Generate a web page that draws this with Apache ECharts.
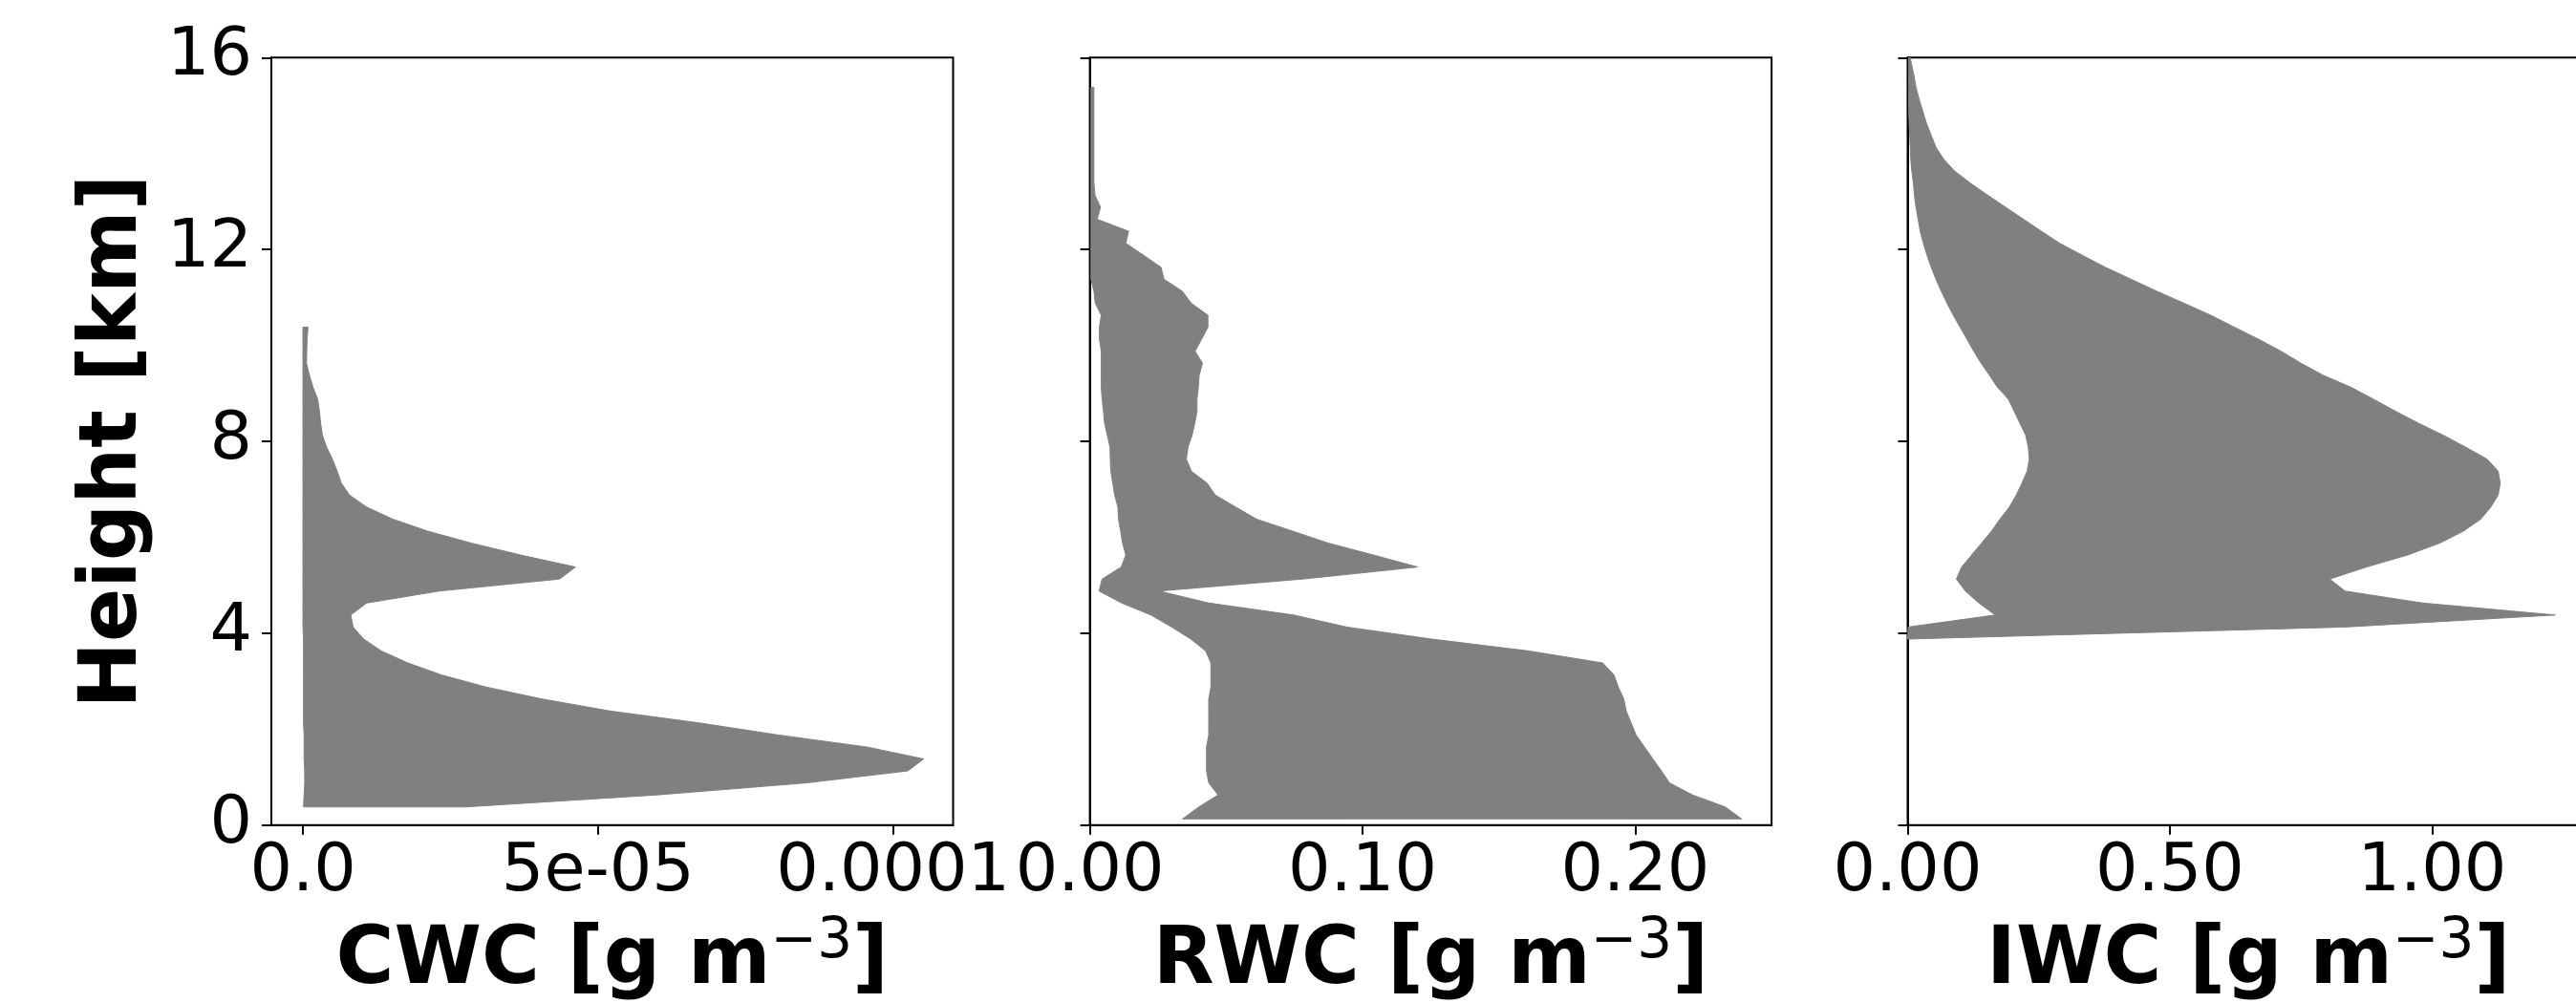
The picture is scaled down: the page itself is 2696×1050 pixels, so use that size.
<!DOCTYPE html>
<html>
<head>
<meta charset="utf-8">
<script src="https://cdn.jsdelivr.net/npm/echarts@6/dist/echarts.min.js"></script>
<style>
html,body{margin:0;padding:0;background:#fff;}
#chart{width:2696px;height:1050px;}
</style>
</head>
<body>
<div id="chart"></div>
<script>
// ---------- data ----------
// Height levels [km]
var cwcHeight = [0.38,0.63,0.88,1.13,1.38,1.63,1.88,2.13,2.38,2.63,2.88,3.13,3.38,3.63,3.88,4.13,4.38,4.63,4.88,5.13,5.38,5.63,5.88,6.13,6.38,6.63,6.88,7.13,7.38,7.63,7.88,8.13,8.38,8.63,8.88,9.13,9.38,9.63,9.88,10.13,10.38];
// CWC bounds, in units of 1e-5 g m-3
var cwcLeft  = [0.01,0.02,0.03,0.03,0.02,0.02,0.02,0.01,0.01,0.01,0.01,0.01,0.01,0.01,0.01,0.0,0.0,0.0,0.0,0.0,0.0,0.0,0.0,0.0,0.0,0.0,0.0,0.0,0.0,0.0,0.0,0.0,0.0,0.0,0.0,0.0,0.0,0.0,0.0,0.0,0.0];
var cwcRight = [2.76,6.0,8.53,10.25,10.52,9.55,8.05,6.72,5.2,4.05,3.1,2.35,1.78,1.33,1.03,0.85,0.81,1.08,2.31,4.35,4.62,3.69,2.85,2.11,1.52,1.08,0.79,0.65,0.58,0.50,0.40,0.33,0.30,0.28,0.25,0.17,0.11,0.06,0.065,0.07,0.086];
var CWC_UNIT = 1e-5;

var rwcHeight = [0.13,0.38,0.63,0.88,1.13,1.38,1.63,1.88,2.13,2.38,2.63,2.88,3.13,3.38,3.63,3.88,4.13,4.38,4.63,4.88,5.13,5.38,5.63,5.88,6.13,6.38,6.63,6.88,7.13,7.38,7.63,7.88,8.13,8.38,8.63,8.88,9.13,9.38,9.63,9.88,10.13,10.38,10.63,10.88,11.13,11.38,11.63,11.88,12.13,12.38,12.63,12.88,13.13,13.38,13.63,13.88,14.13,14.38,14.63,14.88,15.13,15.38];
var rwcLeft  = [0.034,0.040,0.047,0.0436,0.0428,0.0428,0.0428,0.0436,0.0436,0.0436,0.0436,0.0444,0.0444,0.0444,0.0425,0.037,0.030,0.0224,0.0117,0.0034,0.0045,0.0115,0.0132,0.0120,0.0113,0.0105,0.0103,0.0091,0.0084,0.0077,0.0075,0.0074,0.0064,0.0054,0.0050,0.0045,0.0042,0.0042,0.0042,0.0042,0.0035,0.0035,0.0042,0.0020,0.0015,0.0004,0.0004,0.0004,0.0004,0.0004,0.0004,0.0004,0.0004,0.0004,0.0004,0.0004,0.0004,0.0004,0.0004,0.0004,0.0004,0.0004];
var rwcRight = [0.239,0.233,0.221,0.2126,0.2096,0.2065,0.2034,0.2003,0.1985,0.1967,0.1958,0.1938,0.1922,0.1881,0.1611,0.1252,0.0942,0.0747,0.0436,0.0254,0.078,0.1202,0.104,0.0874,0.0743,0.0611,0.0535,0.046,0.043,0.0372,0.0354,0.0360,0.0375,0.0385,0.0393,0.0393,0.0398,0.0401,0.0413,0.0386,0.0410,0.0433,0.0433,0.0372,0.0339,0.0272,0.0261,0.0197,0.0132,0.0142,0.0027,0.0039,0.0019,0.0015,0.0015,0.0015,0.0015,0.0015,0.0015,0.0015,0.0015,0.0015];

var iwcHeight = [3.88,4.13,4.38,4.63,4.88,5.13,5.38,5.63,5.88,6.13,6.38,6.63,6.88,7.13,7.38,7.63,7.88,8.13,8.38,8.63,8.88,9.13,9.38,9.63,9.88,10.13,10.38,10.63,10.88,11.13,11.38,11.63,11.88,12.13,12.38,12.63,12.88,13.13,13.38,13.63,13.88,14.13,14.38,14.63,14.88,15.13,15.38,15.63,15.88,16.13];
var iwcLeft  = [0.000,0.001,0.167,0.136,0.110,0.093,0.103,0.122,0.141,0.160,0.176,0.194,0.207,0.218,0.228,0.232,0.230,0.225,0.214,0.203,0.192,0.171,0.156,0.140,0.126,0.113,0.100,0.087,0.075,0.064,0.054,0.045,0.037,0.030,0.024,0.020,0.016,0.013,0.011,0.008,0.006,0.005,0.004,0.003,0.002,0.002,0.002,0.002,0.002,0.002];
var iwcRight = [0.002,0.834,1.235,0.982,0.834,0.805,0.875,0.953,1.015,1.060,1.093,1.112,1.126,1.130,1.126,1.105,1.064,1.021,0.974,0.930,0.888,0.845,0.792,0.750,0.712,0.669,0.623,0.578,0.527,0.475,0.426,0.377,0.333,0.290,0.255,0.221,0.187,0.153,0.120,0.090,0.069,0.054,0.045,0.036,0.029,0.022,0.016,0.012,0.007,0.003];

// ticks
var heightTicks = [0, 4, 8, 12, 16];
var cwcTicks = [0, 5e-5, 1e-4];
var cwcTickLabels = ['0.0', '5e-05', '0.0001'];
var rwcTicks = [0, 0.1, 0.2];
var rwcTickLabels = ['0.00', '0.10', '0.20'];
var iwcTicks = [0, 0.5, 1.0];
var iwcTickLabels = ['0.00', '0.50', '1.00'];

// ---------- chart ----------
var FONT = 'DejaVu Sans';
var chart = echarts.init(document.getElementById('chart'), null, {renderer: 'canvas'});

function rows(H, L, R, unit) {
  var out = [];
  for (var i = 0; i < H.length; i++) out.push([L[i] * unit, R[i] * unit, H[i]]);
  return out;
}
function makeRender(data) {
  return function (params, api) {
    if (params.dataIndex !== 0) return null;
    var pts = [];
    for (var i = 0; i < data.length; i++) pts.push(api.coord([data[i][0], data[i][2]]));
    for (var j = data.length - 1; j >= 0; j--) pts.push(api.coord([data[j][1], data[j][2]]));
    return {type: 'polygon', shape: {points: pts}, style: {fill: '#808080', stroke: '#808080', lineWidth: 1}};
  };
}
function labelFmt(ticks, labels) {
  return function (v) {
    for (var i = 0; i < ticks.length; i++) if (Math.abs(ticks[i] - v) < 1e-12) return labels[i];
    return '';
  };
}
var richName = {
  b: {fontSize: 83, fontWeight: 'bold', fontFamily: FONT, color: '#000', lineHeight: 100},
  s: {fontSize: 58, fontWeight: 'normal', fontFamily: FONT, color: '#000', lineHeight: 58, verticalAlign: 'top'}
};
function xAxisDef(idx, min, max, ticks, labels, nameMain) {
  return {
    gridIndex: idx, type: 'value', min: min, max: max,
    axisLine: {show: true, onZero: false, lineStyle: {color: '#000', width: 2}},
    axisTick: {show: true, length: 10, lineStyle: {color: '#000', width: 2}, customValues: ticks},
    axisLabel: {show: true, customValues: ticks, formatter: labelFmt(ticks, labels), fontSize: 70, color: '#000', fontFamily: FONT, margin: 15},
    splitLine: {show: false},
    name: '{b|' + nameMain + ' [g m}{s|\u22123}{b|]}',
    nameLocation: 'middle', nameGap: 94,
    nameTextStyle: {rich: richName}
  };
}
function yAxisDef(idx, showLabel) {
  var a = {
    gridIndex: idx, type: 'value', min: 0, max: 16, interval: 4,
    axisLine: {show: true, onZero: false, lineStyle: {color: '#000', width: 2}},
    axisTick: {show: true, length: 10, lineStyle: {color: '#000', width: 2}},
    axisLabel: {show: showLabel, fontSize: 70, color: '#000', fontFamily: FONT, margin: 20,
      formatter: function (v) { return heightTicks.indexOf(v) >= 0 ? String(v) : ''; }},
    splitLine: {show: false}
  };
  if (showLabel) {
    a.name = 'Height [km]';
    a.nameLocation = 'middle';
    a.nameRotate = 90;
    a.nameGap = 114;
    a.nameTextStyle = {fontSize: 83, fontWeight: 'bold', fontFamily: FONT, color: '#000', lineHeight: 100};
  }
  return a;
}
var gridBase = {top: 60.3, height: 803.5, width: 713.5, show: true, borderColor: '#000', borderWidth: 2, backgroundColor: 'transparent', containLabel: false, outerBoundsMode: 'none'};
function grid(left) { var g = Object.assign({}, gridBase); g.left = left; return g; }

var cwcData = rows(cwcHeight, cwcLeft, cwcRight, CWC_UNIT);
var rwcData = rows(rwcHeight, rwcLeft, rwcRight, 1);
var iwcData = rows(iwcHeight, iwcLeft, iwcRight, 1);

var option = {
  animation: false,
  backgroundColor: '#ffffff',
  grid: [grid(284), grid(1140.6), grid(1996.5)],
  xAxis: [
    xAxisDef(0, -5.35e-6, 1.1018e-4, cwcTicks, cwcTickLabels, 'CWC'),
    xAxisDef(1, 0, 0.25, rwcTicks, rwcTickLabels, 'RWC'),
    xAxisDef(2, 0, 1.3, iwcTicks, iwcTickLabels, 'IWC')
  ],
  yAxis: [yAxisDef(0, true), yAxisDef(1, false), yAxisDef(2, false)],
  series: [
    {type: 'custom', xAxisIndex: 0, yAxisIndex: 0, data: cwcData, encode: {x: [0, 1], y: 2}, clip: true, renderItem: makeRender(cwcData)},
    {type: 'custom', xAxisIndex: 1, yAxisIndex: 1, data: rwcData, encode: {x: [0, 1], y: 2}, clip: true, renderItem: makeRender(rwcData)},
    {type: 'custom', xAxisIndex: 2, yAxisIndex: 2, data: iwcData, encode: {x: [0, 1], y: 2}, clip: true, renderItem: makeRender(iwcData)}
  ]
};
chart.setOption(option);
</script>
</body>
</html>
